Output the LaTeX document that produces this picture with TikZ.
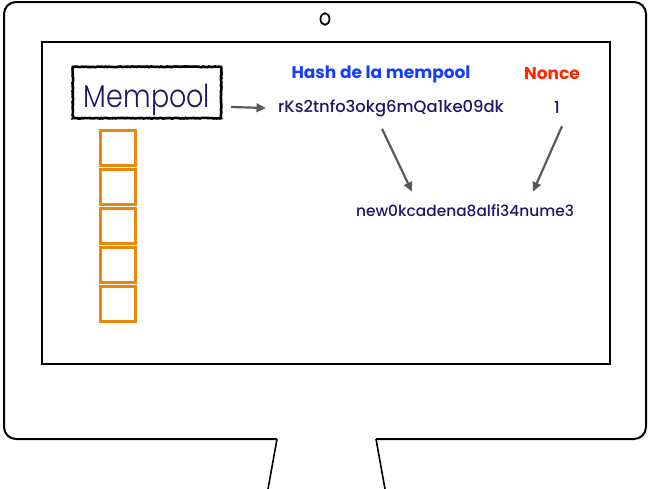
\documentclass[tikz,border=0pt]{standalone}
\usepackage{fontspec}
\setmainfont{Poppins}
\newfontfamily\lightfont{Poppins Light}
\newfontfamily\medfont{Poppins Medium}
\usetikzlibrary{arrows.meta,decorations.pathmorphing}
\definecolor{navy}{RGB}{30,22,100}
\definecolor{hashblue}{RGB}{22,60,255}
\definecolor{noncered}{RGB}{255,40,0}
\definecolor{orangebox}{RGB}{232,137,12}
\definecolor{arrowgray}{RGB}{85,90,96}
\tikzset{
  txt/.style={text=navy, inner sep=0pt, font=\medfont\fontsize{16.4}{16}\selectfont},
  head/.style={font=\bfseries\fontsize{17}{17}\selectfont, inner sep=0pt},
  slot/.style={draw=orangebox, line width=3pt, minimum size=34.5pt, inner sep=0pt},
  arr/.style={draw=arrowgray, line width=2.2pt, -{Triangle[length=9.5pt,width=8.5pt]}},
}
\begin{document}
\begin{tikzpicture}[x=1pt,y=-1pt]
\useasboundingbox (0,0) rectangle (650,488);
\draw[line width=2pt, rounded corners=12pt] (277,439) -- (4,439) -- (4,2) -- (646,2) -- (646,439) -- (376,439);
\draw[line width=1.6pt] (277,439) -- (268,489);
\draw[line width=1.6pt] (376,439) -- (385,489);
\draw[line width=1.8pt] (325,19) ellipse (4.5pt and 5.8pt);
\draw[line width=1.6pt] (42,42) rectangle (610,364);
\node[txt, font=\lightfont\fontsize{27}{27}\selectfont, minimum width=148pt, minimum height=51pt, text height=29pt, text depth=0pt] (mempool) at (147,92.5){\scalebox{1}[1.17]{Mempool}};
\draw[line width=2.6pt, decorate, decoration={random steps, segment length=1.5pt, amplitude=0.4pt}] (mempool.north west) rectangle (mempool.south east);
\node[slot] (s1) at (118,148){};
\node[slot] (s2) at (118,187){};
\node[slot] (s3) at (118,226){};
\node[slot] (s4) at (118,265){};
\node[slot] (s5) at (118,304){};
\node[head, text=hashblue] (hashtitle) at (381,74){Hash de la mempool};
\node[head, text=noncered] (noncetitle) at (552,74){Nonce};
\node[txt] (hash) at (391,108){rKs2tnfo3okg6mQa1ke09dk};
\node[txt] (nonce) at (557,108){1};
\node[txt, font=\medfont\fontsize{15.4}{16}\selectfont] (result) at (465,211){new0kcadena8alfi34nume3};
\draw[arr] ([shift={(10,14.5)}]mempool.east) -- ([xshift=-12pt]hash.west);
\draw[arr] ([shift={(-9,12)}]hash.south) -- ([shift={(-53,-13)}]result.north);
\draw[arr] ([shift={(5,12)}]nonce.south) -- ([shift={(68,-13)}]result.north);
\end{tikzpicture}
\end{document}
